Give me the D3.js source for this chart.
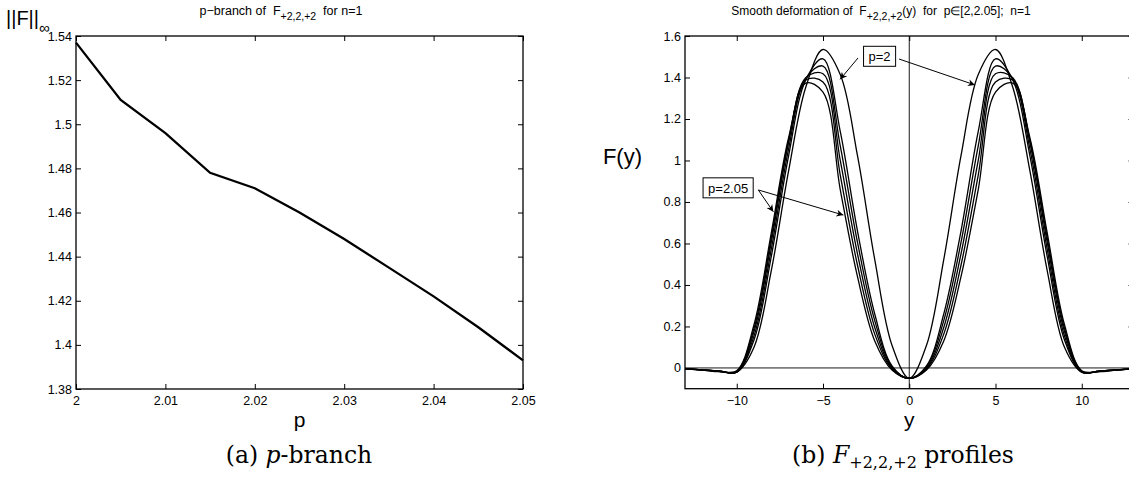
<!DOCTYPE html>
<html>
<head>
<meta charset="utf-8">
<title>p-branch and F profiles</title>
<script src="https://cdn.jsdelivr.net/npm/d3@7/dist/d3.min.js"></script>
<style>
body { margin: 0; background: #fff; }
text { font-family: "Liberation Sans", Arial, sans-serif; fill: #000; white-space: pre; }
.cap { font-family: "DejaVu Serif", serif; }
.tick line { stroke: #000; stroke-width: 1; }
</style>
</head>
<body>
<svg id="fig" width="1129" height="484"></svg>
<script>
// ---- left panel: sup norm along the p-branch
var branchP = [2, 2.005, 2.01, 2.015, 2.02, 2.025, 2.03, 2.035, 2.04, 2.045, 2.05];
var branchNorm = [1.537, 1.511, 1.496, 1.478, 1.471, 1.460, 1.448, 1.435, 1.422, 1.408, 1.393];
var branchXTicks = [2, 2.01, 2.02, 2.03, 2.04, 2.05];
var branchXLabels = ["2", "2.01", "2.02", "2.03", "2.04", "2.05"];
var branchYTicks = [1.38, 1.4, 1.42, 1.44, 1.46, 1.48, 1.5, 1.52, 1.54];
var branchYLabels = ["1.38", "1.4", "1.42", "1.44", "1.46", "1.48", "1.5", "1.52", "1.54"];

// ---- right panel: profiles F(y) for p = 2 ... 2.05
var profileY = [-13, -12, -11, -10, -9, -8, -7, -6, -5, -4, -3, -2, -1, 0, 1, 2, 3, 4, 5, 6, 7, 8, 9, 10, 11, 12, 13];
var profileP = ["2", "2.01", "2.02", "2.03", "2.04", "2.05"];
var F_200 = [-0.004, -0.009, -0.015, -0.020, 0.100, 0.468, 0.947, 1.353, 1.535, 1.414, 1.023, 0.522, 0.109, -0.05, 0.109, 0.522, 1.023, 1.414, 1.535, 1.353, 0.947, 0.468, 0.100, -0.020, -0.015, -0.009, -0.004];
var F_201 = [-0.004, -0.009, -0.015, -0.020, 0.135, 0.536, 1.020, 1.388, 1.490, 1.140, 0.660, 0.260, 0.010, -0.05, 0.010, 0.260, 0.660, 1.140, 1.490, 1.388, 1.020, 0.536, 0.135, -0.020, -0.015, -0.009, -0.004];
var F_202 = [-0.004, -0.009, -0.016, -0.020, 0.154, 0.571, 1.053, 1.396, 1.455, 1.070, 0.605, 0.228, 0.005, -0.05, 0.005, 0.228, 0.605, 1.070, 1.455, 1.396, 1.053, 0.571, 0.154, -0.020, -0.016, -0.009, -0.004];
var F_203 = [-0.004, -0.009, -0.016, -0.018, 0.175, 0.605, 1.084, 1.399, 1.418, 1.000, 0.550, 0.195, 0.000, -0.05, 0.000, 0.195, 0.550, 1.000, 1.418, 1.399, 1.084, 0.605, 0.175, -0.018, -0.016, -0.009, -0.004];
var F_204 = [-0.004, -0.010, -0.017, -0.016, 0.191, 0.627, 1.096, 1.388, 1.378, 0.930, 0.495, 0.163, -0.005, -0.05, -0.005, 0.163, 0.495, 0.930, 1.378, 1.388, 1.096, 0.627, 0.191, -0.016, -0.017, -0.010, -0.004];
var F_205 = [-0.004, -0.010, -0.018, -0.013, 0.208, 0.650, 1.108, 1.373, 1.330, 0.860, 0.440, 0.130, -0.010, -0.05, -0.010, 0.130, 0.440, 0.860, 1.330, 1.373, 1.108, 0.650, 0.208, -0.013, -0.018, -0.010, -0.004];
var profXTicks = [-10, -5, 0, 5, 10];
var profXLabels = ["\u221210", "\u22125", "0", "5", "10"];
var profYTicks = [0, 0.2, 0.4, 0.6, 0.8, 1, 1.2, 1.4, 1.6];
var profYLabels = ["0", "0.2", "0.4", "0.6", "0.8", "1", "1.2", "1.4", "1.6"];

// annotations (data coordinates of the right panel)
var noteText = ["p=2", "p=2.05"];
var noteAt = [[-1.72, 1.50], [-10.5, 0.866]];
var arrowFrom = [[-2.97, 1.494], [-0.59, 1.489], [-8.75, 0.858], [-8.75, 0.858]];
var arrowTo = [[-4.01, 1.391], [3.81, 1.364], [-7.88, 0.753], [-3.82, 0.737]];

var svg = d3.select("#fig");

svg.append("defs").append("marker")
  .attr("id", "head")
  .attr("viewBox", "0 0 10 10")
  .attr("refX", 10).attr("refY", 5)
  .attr("markerWidth", 10).attr("markerHeight", 7)
  .attr("markerUnits", "userSpaceOnUse")
  .attr("orient", "auto")
  .append("path")
  .attr("d", "M0,0 L10,5 L0,10 L3,5 Z")
  .attr("fill", "#000");

function frame(g, x, y, xt, xl, yt, yl) {
  var x0 = x.range()[0], x1 = x.range()[1], y0 = y.range()[0], y1 = y.range()[1];
  g.append("g").attr("transform", "translate(0," + y0 + ")")
    .call(d3.axisBottom(x).tickValues(xt).tickFormat(function(d, i) { return xl[i]; })
      .tickSizeInner(-5).tickSizeOuter(0).tickPadding(7))
    .call(function(a) { a.select(".domain").remove(); a.selectAll("text").attr("font-size", 12.5).attr("font-family", null); });
  g.append("g").attr("transform", "translate(0," + y1 + ")")
    .call(d3.axisTop(x).tickValues(xt).tickFormat("").tickSizeInner(-5).tickSizeOuter(0))
    .call(function(a) { a.select(".domain").remove(); });
  g.append("g").attr("transform", "translate(" + x0 + ",0)")
    .call(d3.axisLeft(y).tickValues(yt).tickFormat(function(d, i) { return yl[i]; })
      .tickSizeInner(-5).tickSizeOuter(0).tickPadding(4))
    .call(function(a) { a.select(".domain").remove(); a.selectAll("text").attr("font-size", 12.5).attr("font-family", null); });
  g.append("g").attr("transform", "translate(" + x1 + ",0)")
    .call(d3.axisRight(y).tickValues(yt).tickFormat("").tickSizeInner(-5).tickSizeOuter(0))
    .call(function(a) { a.select(".domain").remove(); });
  g.append("rect")
    .attr("x", x0).attr("y", y1).attr("width", x1 - x0).attr("height", y0 - y1)
    .attr("fill", "none").attr("stroke", "#000").attr("stroke-width", 1.3);
}

// ---------- left panel
var xa = d3.scaleLinear().domain([2, 2.05]).range([76, 523]);
var ya = d3.scaleLinear().domain([1.38, 1.54]).range([389, 36]);
var ga = svg.append("g");

ga.append("path")
  .datum(branchP.map(function(p, i) { return [p, branchNorm[i]]; }))
  .attr("fill", "none").attr("stroke", "#000").attr("stroke-width", 2.3)
  .attr("d", d3.line().x(function(d) { return xa(d[0]); }).y(function(d) { return ya(d[1]); }));

frame(ga, xa, ya, branchXTicks, branchXLabels, branchYTicks, branchYLabels);

var ta = ga.append("text").attr("x", 281).attr("y", 15).attr("text-anchor", "middle").attr("font-size", 12.5);
ta.append("tspan").text("p\u2212branch of  F");
ta.append("tspan").attr("dy", 5).attr("font-size", 10.5).text("+2,2,+2");
ta.append("tspan").attr("dy", -5).text("  for n=1");

var la = ga.append("text").attr("x", 6).attr("y", 25).attr("font-size", 20);
la.append("tspan").text("||F||");
la.append("tspan").attr("dy", 8).attr("font-size", 15).text("\u221E");

ga.append("text").attr("x", xa(2.025)).attr("y", 427).attr("text-anchor", "middle").attr("font-size", 21).text("p");

var ca = ga.append("text").attr("class", "cap").attr("x", 299).attr("y", 463).attr("text-anchor", "middle").attr("font-size", 23.5);
ca.append("tspan").text("(a) ");
ca.append("tspan").attr("font-style", "italic").text("p");
ca.append("tspan").text("-branch");

// ---------- right panel
var xb = d3.scaleLinear().domain([-13, 13]).range([685, 1133.5]);
var yb = d3.scaleLinear().domain([-0.1, 1.6]).range([388.7, 36]);
var gb = svg.append("g");

gb.append("line").attr("x1", xb(-13)).attr("x2", xb(13)).attr("y1", yb(0)).attr("y2", yb(0))
  .attr("stroke", "#000").attr("stroke-width", 0.9);
gb.append("line").attr("x1", xb(0)).attr("x2", xb(0)).attr("y1", yb(-0.1)).attr("y2", yb(1.6))
  .attr("stroke", "#000").attr("stroke-width", 0.9);

var profiles = [F_200, F_201, F_202, F_203, F_204, F_205];
var prof = d3.line()
  .x(function(d, i) { return xb(profileY[i]); })
  .y(function(d) { return yb(d); })
  .curve(d3.curveCatmullRom);

gb.selectAll("path.prof").data(profiles).enter().append("path")
  .attr("class", "prof")
  .attr("fill", "none").attr("stroke", "#000").attr("stroke-width", 1.3)
  .attr("d", prof);

frame(gb, xb, yb, profXTicks, profXLabels, profYTicks, profYLabels);

var tb = gb.append("text").attr("x", 881).attr("y", 15).attr("text-anchor", "middle").attr("font-size", 12);
tb.append("tspan").text("Smooth deformation of  F");
tb.append("tspan").attr("dy", 5).attr("font-size", 10.5).text("+2,2,+2");
tb.append("tspan").attr("dy", -5).text("(y)  for  p\u2208[2,2.05];  n=1");

gb.append("text").attr("x", 642).attr("y", 164).attr("text-anchor", "end").attr("font-size", 22).text("F(y)");
gb.append("text").attr("x", xb(0)).attr("y", 427).attr("text-anchor", "middle").attr("font-size", 21).text("y");

var cb = gb.append("text").attr("class", "cap").attr("x", 903).attr("y", 463).attr("text-anchor", "middle").attr("font-size", 23.5);
cb.append("tspan").text("(b) ");
cb.append("tspan").attr("font-style", "italic").text("F");
cb.append("tspan").attr("dy", 5).attr("font-size", 16).text("+2,2,+2");
cb.append("tspan").attr("dy", -5).text(" profiles");

// arrows
gb.selectAll("line.arrow").data(arrowFrom).enter().append("line")
  .attr("class", "arrow")
  .attr("x1", function(d) { return xb(d[0]); }).attr("y1", function(d) { return yb(d[1]); })
  .attr("x2", function(d, i) { return xb(arrowTo[i][0]); }).attr("y2", function(d, i) { return yb(arrowTo[i][1]); })
  .attr("stroke", "#000").attr("stroke-width", 1)
  .attr("marker-end", "url(#head)");

// labelled boxes
noteText.forEach(function(t, i) {
  var n = gb.append("g");
  var tx = n.append("text").attr("x", xb(noteAt[i][0])).attr("y", yb(noteAt[i][1]))
    .attr("dy", "0.35em").attr("text-anchor", "middle").attr("font-size", 13).text(t);
  var bb = tx.node().getBBox();
  n.insert("rect", "text")
    .attr("x", bb.x - 5).attr("y", bb.y - 3).attr("width", bb.width + 10).attr("height", bb.height + 5)
    .attr("fill", "#fff").attr("stroke", "#000").attr("stroke-width", 1);
});
</script>
</body>
</html>
